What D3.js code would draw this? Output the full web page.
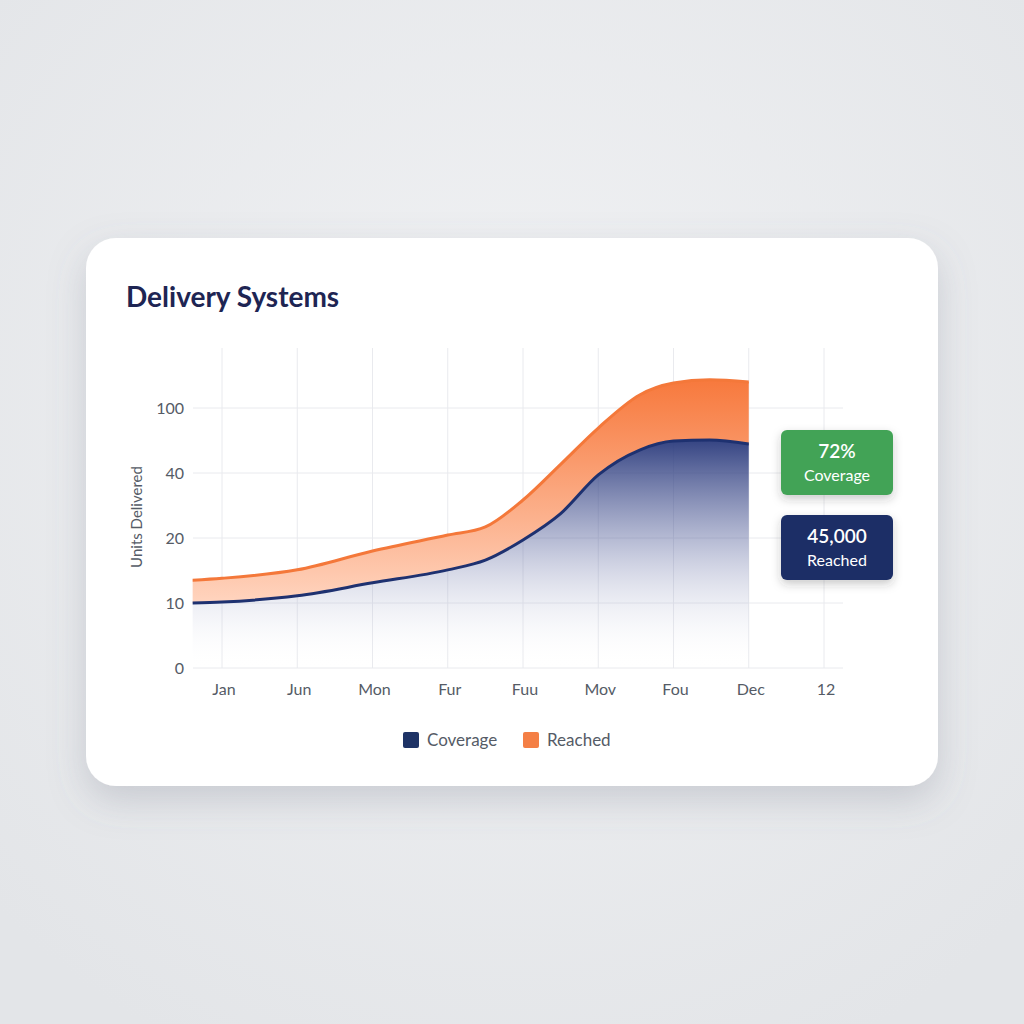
<!DOCTYPE html>
<html><head><meta charset="utf-8">
<script src="https://cdn.jsdelivr.net/npm/d3@7"></script>
<style>body{margin:0;background:#e9ebee;font-family:Lato,"Open Sans",sans-serif}</style>
</head><body>
<svg id="c" width="1024" height="1024"></svg>
<script>
const xLabels=["Jan","Jun","Mon","Fur","Fuu","Mov","Fou","Dec","12"];
const yTicks=[0,10,20,40,100];
const xPos=[-0.39,0,1,2,3,3.5,4,4.5,5,5.55,6,6.48,7];
const coverage=[10,10.15,11.1,13.1,15.1,16.6,19.7,27.5,39.4,61.2,69.5,70.5,66.8];
const reached=[13.5,13.8,15.1,18,20.9,23.4,31.7,48,81.5,112,123,126,124];
const badges=[{v:"72%",l:"Coverage",c:"#43a357"},{v:"45,000",l:"Reached",c:"#1b2f66"}];
const legend=[{l:"Coverage",c:"#1e3366"},{l:"Reached",c:"#f47f45"}];

const svg=d3.select("#c");
const defs=svg.append("defs");
const bg=defs.append("radialGradient").attr("id","bg").attr("cx","50%").attr("cy","40%").attr("r","70%");
bg.append("stop").attr("offset","0").attr("stop-color","#f1f2f4");
bg.append("stop").attr("offset","1").attr("stop-color","#e3e5e8");
svg.append("rect").attr("width",1024).attr("height",1024).attr("fill","url(#bg)");
const f=defs.append("filter").attr("id","sh").attr("x","-20%").attr("y","-20%").attr("width","140%").attr("height","150%");
f.append("feDropShadow").attr("dx",0).attr("dy",14).attr("stdDeviation",18).attr("flood-color","#6a7080").attr("flood-opacity",0.25);
const f2=defs.append("filter").attr("id","sh2").attr("x","-20%").attr("y","-20%").attr("width","140%").attr("height","160%");
f2.append("feDropShadow").attr("dx",0).attr("dy",4).attr("stdDeviation",5).attr("flood-color","#333").attr("flood-opacity",0.25);
const gN=defs.append("linearGradient").attr("id","gN").attr("x1",0).attr("x2",0).attr("gradientUnits","userSpaceOnUse").attr("y1",440).attr("y2",668);
gN.append("stop").attr("offset","0").attr("stop-color","#2a3a7c").attr("stop-opacity",0.95);
gN.append("stop").attr("offset","0.5").attr("stop-color","#5a659e").attr("stop-opacity",0.35);
gN.append("stop").attr("offset","1").attr("stop-color","#ffffff").attr("stop-opacity",0);
const gO=defs.append("linearGradient").attr("id","gO").attr("x1",0).attr("x2",0).attr("gradientUnits","userSpaceOnUse").attr("y1",380).attr("y2",600);
gO.append("stop").attr("offset","0").attr("stop-color","#f7793d");
gO.append("stop").attr("offset","1").attr("stop-color","#ffd3bd");

svg.append("rect").attr("x",86).attr("y",238).attr("width",852).attr("height",548).attr("rx",30).attr("fill","#fff").attr("filter","url(#sh)");
svg.append("text").attr("x",126).attr("y",307).attr("font-size",28).attr("font-weight",700).attr("fill","#1e2553").text("Delivery Systems");

const x=d3.scaleLinear().domain([0,8]).range([222,824]);
const y=d3.scaleLinear().domain(yTicks).range([668,603,538,473,408]);
const g=svg.append("g");
xLabels.forEach((d,i)=>g.append("line").attr("x1",x(i)).attr("x2",x(i)).attr("y1",348).attr("y2",668).attr("stroke","#e9eaee"));
yTicks.forEach(t=>{g.append("line").attr("x1",193).attr("x2",843).attr("y1",y(t)).attr("y2",y(t)).attr("stroke","#e9eaee");
 g.append("text").attr("x",184).attr("y",y(t)+6).attr("text-anchor","end").attr("font-size",16).attr("fill","#555b66").text(t);});
xLabels.forEach((d,i)=>g.append("text").attr("x",x(i)+2).attr("y",695).attr("text-anchor","middle").attr("font-size",16).attr("fill","#555b66").text(d));
svg.append("text").attr("transform","translate(142,517) rotate(-90)").attr("text-anchor","middle").attr("font-size",15).attr("fill","#555b66").text("Units Delivered");

const pts=xPos.map((p,i)=>({x:p,c:coverage[i],r:reached[i]}));
const cur=d3.curveMonotoneX;
g.append("path").datum(pts).attr("fill","url(#gN)").attr("d",d3.area().curve(cur).x(d=>x(d.x)).y0(668).y1(d=>y(d.c)));
g.append("path").datum(pts).attr("fill","url(#gO)").attr("d",d3.area().curve(cur).x(d=>x(d.x)).y0(d=>y(d.c)).y1(d=>y(d.r)));
g.append("path").datum(pts).attr("fill","none").attr("stroke","#f4783a").attr("stroke-width",3).attr("d",d3.line().curve(cur).x(d=>x(d.x)).y(d=>y(d.r)));
g.append("path").datum(pts).attr("fill","none").attr("stroke","#1e3170").attr("stroke-width",3).attr("d",d3.line().curve(cur).x(d=>x(d.x)).y(d=>y(d.c)));

badges.forEach((b,i)=>{const by=430+i*85;
 svg.append("rect").attr("x",781).attr("y",by).attr("width",112).attr("height",65).attr("rx",6).attr("fill",b.c).attr("filter","url(#sh2)");
 svg.append("text").attr("x",837).attr("y",by+28).attr("text-anchor","middle").attr("font-size",19).attr("font-weight",600).attr("fill","#fff").text(b.v);
 svg.append("text").attr("x",837).attr("y",by+51).attr("text-anchor","middle").attr("font-size",16).attr("fill","#fff").text(b.l);});

legend.forEach((l,i)=>{const lx=403+i*120;
 svg.append("rect").attr("x",lx).attr("y",732).attr("width",16).attr("height",16).attr("rx",2).attr("fill",l.c);
 svg.append("text").attr("x",lx+24).attr("y",746).attr("font-size",17).attr("fill","#555b66").text(l.l);});
</script></body></html>
